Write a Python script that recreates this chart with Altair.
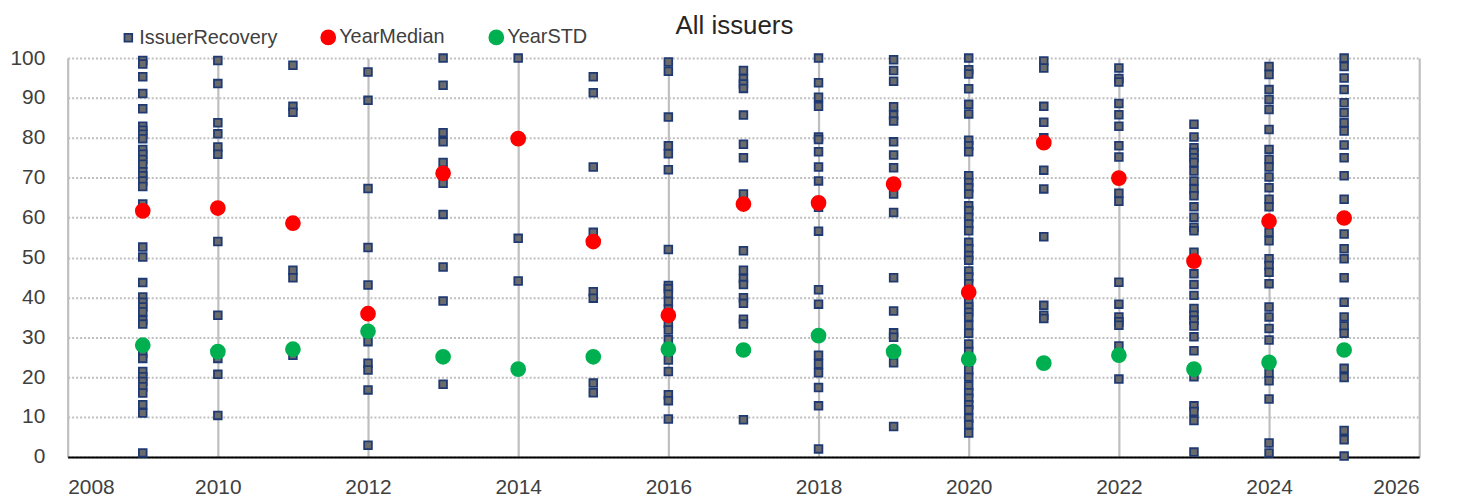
import altair as alt
import pandas as pd

years = list(range(2009, 2026))

recovery = [
    [99.4, 98.5, 95.3, 91.1, 87.3, 82.9, 81.9, 80.9, 79.8, 77.1, 75.9, 74.6, 73.4, 71.5, 70.5, 69.2, 67.8, 63.4,
     52.6, 50.1, 43.7, 40.1, 38.8, 37.6, 36.4, 34.3, 33.3, 26.0, 24.7, 21.4, 20.1, 18.9, 17.6, 16.0, 13.1, 11.0, 1.0],
    [99.4, 93.6, 83.8, 81.0, 77.7, 75.9, 54.0, 35.5, 24.7, 20.7, 10.4],
    [98.2, 87.9, 86.4, 46.8, 44.9, 25.5],
    [96.5, 89.4, 67.3, 52.5, 43.1, 28.9, 23.5, 21.8, 16.8, 2.9],
    [100.0, 93.2, 81.3, 79.0, 73.8, 68.6, 60.8, 47.6, 39.1, 18.2],
    [100.0, 54.8, 44.1],
    [95.3, 91.3, 72.7, 56.3, 41.4, 39.8, 18.5, 16.1],
    [99.0, 96.7, 85.2, 78.0, 76.0, 72.0, 52.0, 43.0, 42.2, 40.8, 39.0, 37.0, 33.5, 31.8, 29.4, 24.3, 21.4,
     15.6, 14.1, 9.5],
    [96.9, 94.8, 93.5, 92.4, 85.7, 78.4, 75.0, 65.9, 51.7, 46.8, 44.7, 43.2, 39.9, 38.5, 34.5, 33.3, 9.3],
    [100.0, 93.8, 90.2, 87.9, 80.2, 79.6, 76.5, 72.7, 69.2, 62.6, 56.6, 41.9, 38.3, 25.5, 23.3, 21.1, 17.4,
     12.8, 2.0],
    [99.6, 96.9, 94.2, 87.8, 85.7, 84.2, 79.0, 75.7, 72.5, 65.9, 61.3, 44.9, 36.6, 31.1, 30.0, 23.6, 7.6],
    [100.0, 97.1, 96.0, 92.3, 88.4, 86.0, 79.4, 78.0, 76.5, 70.5, 68.8, 67.5, 65.9, 63.0, 61.7, 60.1, 58.4,
     56.7, 53.8, 52.2, 50.5, 49.3, 46.6, 45.1, 43.4, 38.8, 37.6, 36.3, 35.1, 33.0, 31.0, 28.3, 26.4, 21.8,
     20.0, 17.8, 16.1, 14.7, 13.1, 11.8, 9.7, 8.1, 6.0],
    [99.3, 97.5, 87.9, 83.9, 80.0, 71.9, 67.2, 55.2, 38.0, 35.5, 34.7],
    [97.5, 94.9, 94.0, 88.6, 85.8, 82.9, 78.0, 75.2, 66.1, 64.1, 43.8, 38.3, 35.1, 33.9, 33.0, 27.8, 19.5],
    [83.4, 80.2, 77.5, 76.3, 75.0, 73.8, 71.7, 69.2, 67.2, 65.5, 62.7, 60.1, 57.6, 56.7, 51.3, 45.9, 43.2,
     40.5, 37.2, 35.5, 34.3, 32.8, 30.1, 26.6, 20.1, 12.8, 11.4, 9.1, 1.2],
    [97.9, 95.9, 92.1, 89.6, 87.1, 82.1, 77.1, 74.6, 72.7, 70.2, 67.5, 64.6, 62.7, 56.3, 54.2, 49.7, 48.0,
     46.3, 43.4, 37.6, 35.1, 32.2, 29.3, 21.0, 19.1, 14.5, 3.5, 1.0],
    [100.0, 97.9, 95.0, 92.1, 88.8, 86.3, 83.8, 81.7, 78.2, 75.0, 70.5, 64.6, 55.9, 52.2, 49.7, 44.9, 38.8,
     35.1, 32.8, 31.0, 22.2, 19.9, 6.6, 4.3, 0.2],
]

year_median = [61.7, 62.4, 58.6, 35.9, 71.1, 79.8, 54.0, 35.5, 63.4, 63.7, 68.4, 41.3, 78.8, 69.9, 49.1, 59.1, 59.9]
year_std = [28.0, 26.4, 27.0, 31.5, 25.1, 22.0, 25.1, 27.0, 26.8, 30.4, 26.4, 24.5, 23.5, 25.5, 22.0, 23.7, 26.8]

series_names = ["IssuerRecovery", "YearMedian", "YearSTD"]
fill_colors = ["#6b6b6b", "#ff0000", "#00b050"]
stroke_colors = ["#1f3a73", "#ff0000", "#00b050"]
shapes = ["square", "circle", "circle"]
sizes = [60, 196, 196]

x_ticks = list(range(2008, 2027, 2))
y_ticks = list(range(0, 101, 10))

rows = []
for yr, vals in zip(years, recovery):
    for v in vals:
        rows.append({"Year": yr, "Value": v, "Series": "IssuerRecovery"})
for yr, v in zip(years, year_median):
    rows.append({"Year": yr, "Value": v, "Series": "YearMedian"})
for yr, v in zip(years, year_std):
    rows.append({"Year": yr, "Value": v, "Series": "YearSTD"})
df = pd.DataFrame(rows)

FONT = "Liberation Sans, Arial, sans-serif"
TXT = "#404040"

legend = alt.Legend(
    title=None, orient="none", direction="horizontal", legendX=51, legendY=-31,
    labelFont=FONT, labelFontSize=20, labelColor=TXT, labelOffset=1, labelLimit=400,
    columnPadding=40, symbolStrokeWidth=1.8, symbolOpacity=1, padding=0,
)

chart = alt.Chart(df).mark_point(strokeWidth=1.8, opacity=1).encode(
    x=alt.X("Year:Q", scale=alt.Scale(domain=[2008, 2026], nice=False, zero=False),
            axis=alt.Axis(values=x_ticks, format="d", title=None, grid=True, gridColor="#bfbfbf",
                          gridWidth=2.2, domainColor="#000000", domainWidth=2, ticks=False,
                          labelFont=FONT, labelFontSize=21, labelColor=TXT, labelPadding=20)),
    y=alt.Y("Value:Q", scale=alt.Scale(domain=[0, 100], nice=False),
            axis=alt.Axis(values=y_ticks, title=None, grid=True, gridColor="#bfbfbf", gridDash=[2, 2],
                          gridWidth=2, domain=False, ticks=False,
                          labelFont=FONT, labelFontSize=21, labelColor=TXT, labelPadding=23)),
    fill=alt.Fill("Series:N", scale=alt.Scale(domain=series_names, range=fill_colors), legend=legend),
    stroke=alt.Stroke("Series:N", scale=alt.Scale(domain=series_names, range=stroke_colors), legend=legend),
    shape=alt.Shape("Series:N", scale=alt.Scale(domain=series_names, range=shapes), legend=legend),
    size=alt.Size("Series:N", scale=alt.Scale(type="ordinal", domain=series_names, range=sizes), legend=legend),
).properties(
    width=1359, height=401,
    title=alt.TitleParams("All issuers", font=FONT, fontSize=26, fontWeight="normal", color="#262626",
                          anchor="middle", frame="group", offset=-12, dx=-9),
    autosize=alt.AutoSizeParams(type="none"),
    padding={"left": 60, "top": 49, "right": 41, "bottom": 44},
).configure_view(stroke=None)

chart.save("out.html", embed_options={"renderer": "svg", "actions": False})
